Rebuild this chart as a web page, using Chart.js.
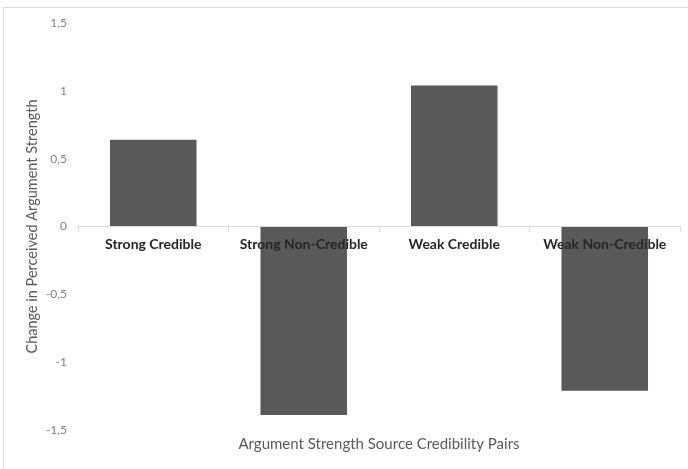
<!DOCTYPE html>
<html>
<head>
<meta charset="utf-8">
<script src="https://cdn.jsdelivr.net/npm/chart.js@4/dist/chart.umd.min.js"></script>
<style>
  html, body { margin: 0; padding: 0; background: #ffffff; }
  #wrap { position: relative; width: 688px; height: 469px; }
  #frame { position: absolute; left: 3px; top: 7px; right: 0; bottom: 0;
           border-top: 1px solid #d9d9d9; border-left: 1px solid #d9d9d9; }
  canvas { position: absolute; left: 0; top: 0; }
</style>
</head>
<body>
<div id="wrap">
  <div id="frame"></div>
  <canvas id="chart" width="688" height="469"></canvas>
</div>
<script>
// Argument strength / source credibility pairs and the mean change for each
const categories = ['Strong Credible', 'Strong Non-Credible', 'Weak Credible', 'Weak Non-Credible'];
const changeValues = [0.64, -1.39, 1.04, -1.21];
const yTicks = [-1.5, -1, -0.5, 0, 0.5, 1, 1.5];
const xTitle = 'Argument Strength Source Credibility Pairs';
const yTitle = 'Change in Perceived Argument Strength';

const FONT = 'Lato, "Open Sans", sans-serif';

new Chart(document.getElementById('chart'), {
  type: 'bar',
  data: {
    labels: categories,
    datasets: [{
      data: changeValues,
      backgroundColor: '#595959',
      borderWidth: 0,
      categoryPercentage: 1,
      barPercentage: 0.575
    }]
  },
  options: {
    responsive: false,
    animation: false,
    devicePixelRatio: 1,
    layout: { padding: { left: 22, top: 23, right: 8, bottom: 16 } },
    plugins: { legend: { display: false }, tooltip: { enabled: false } },
    scales: {
      x: {
        type: 'category',
        position: { y: 0 },
        offset: true,
        grid: {
          display: true, drawOnChartArea: false, drawTicks: true,
          tickLength: 5, color: '#d9d9d9', offset: true, z: 1
        },
        border: { display: true, color: '#d9d9d9', width: 1, z: 1 },
        ticks: {
          z: 1,
          color: '#262626', padding: 5, maxRotation: 0, autoSkip: false,
          font: { family: FONT, size: 14, weight: 'bold' }
        }
      },
      x2: {
        type: 'category',
        labels: categories,
        position: 'bottom',
        grid: { display: false, drawTicks: false },
        border: { display: false },
        ticks: { display: false },
        title: {
          display: true, text: xTitle, color: '#595959',
          font: { family: FONT, size: 15 }, padding: { top: 0, bottom: 0 }
        },
        afterFit: s => { s.height = 23; }
      },
      y: {
        min: -1.5, max: 1.5,
        afterBuildTicks: s => { s.ticks = yTicks.map(v => ({ value: v })); },
        grid: { display: false, drawTicks: false },
        border: { display: false },
        ticks: {
          color: '#7f7f7f', padding: 11,
          font: { family: FONT, size: 12 },
          callback: v => String(v).replace('.', ',')
        },
        title: {
          display: true, text: yTitle, color: '#595959',
          font: { family: FONT, size: 14.5 }, padding: { top: 2, bottom: 4 }
        },
        afterFit: s => { s.width = 56; }
      }
    }
  }
});
</script>
</body>
</html>
